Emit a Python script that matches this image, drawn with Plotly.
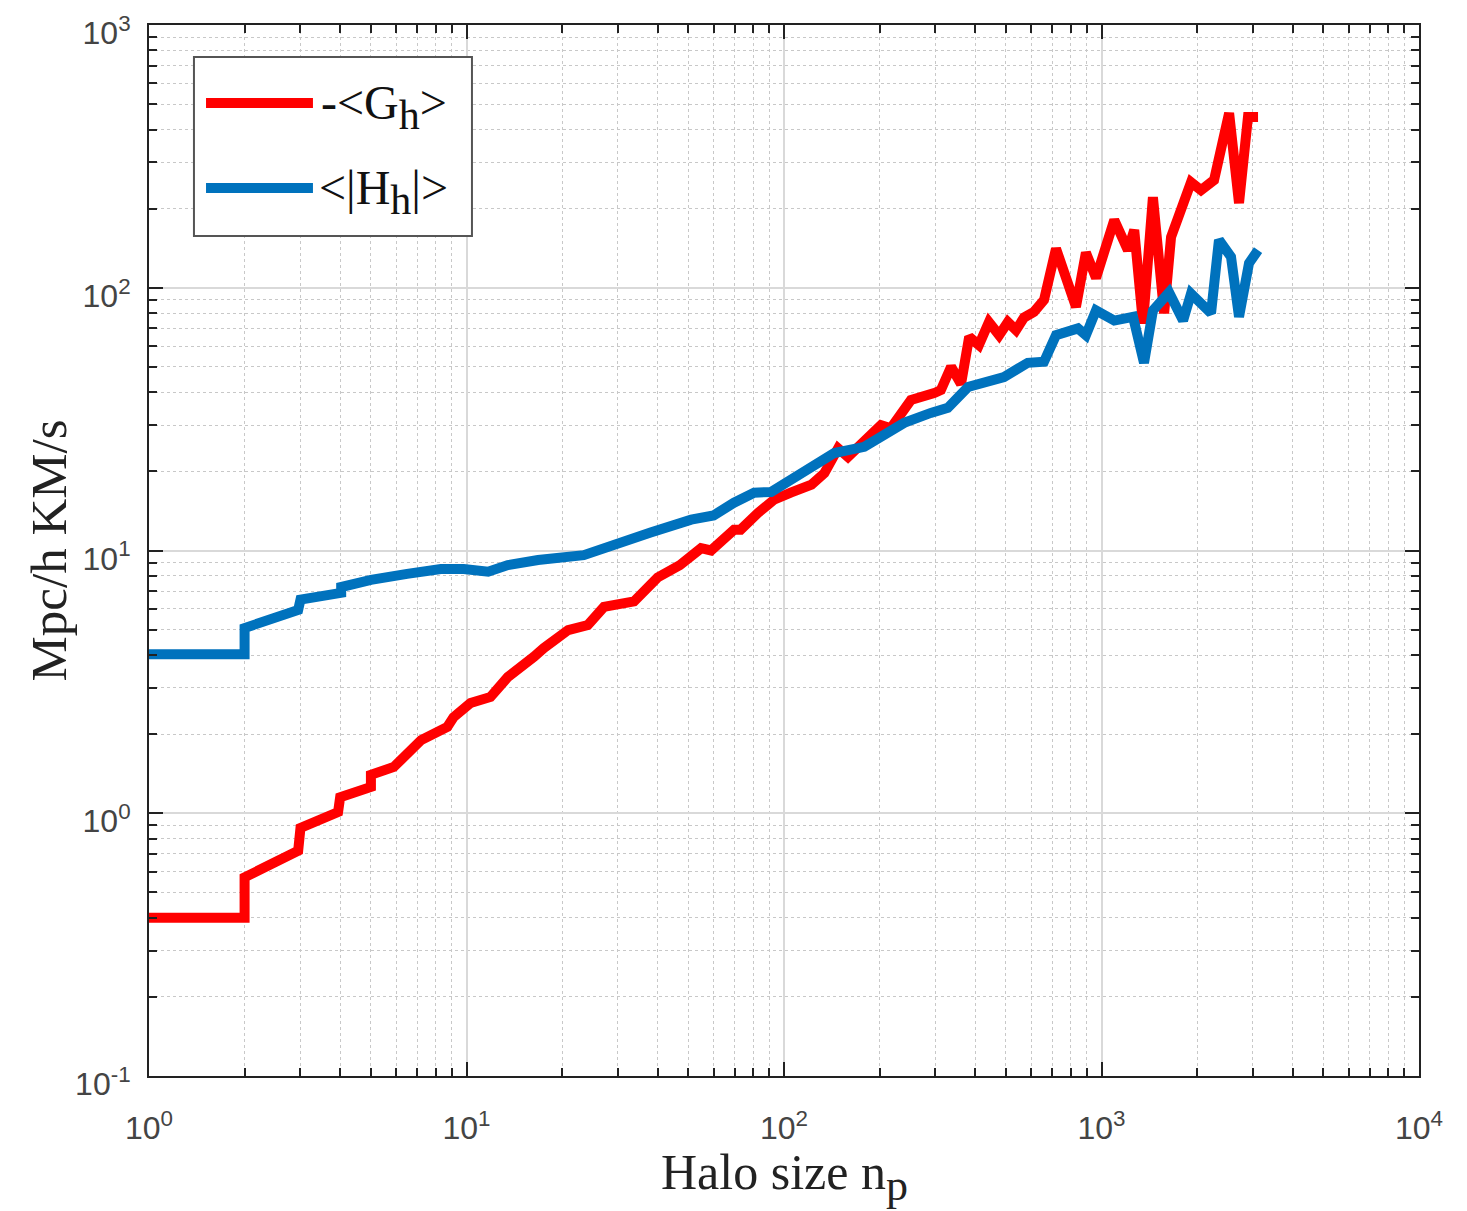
import plotly.graph_objects as go

# ---- data ----
g_np = [1, 2, 2, 2.95, 3, 3.94, 4, 5, 5, 5.9, 7.2, 8.7, 9.1, 10.3, 11.9, 13.5, 16.3, 17.5,
        20.9, 24.1, 27.1, 33.7, 40, 47, 54.8, 58.9, 69.6, 73, 82.8, 93, 105, 122, 134, 148,
        159, 184, 202, 217, 251, 297, 312, 336, 361, 383, 411, 442, 476, 507, 538, 570, 613,
        659, 719, 831, 893, 961, 1097, 1211, 1268, 1351, 1452, 1575, 1656, 1914, 2058, 2262,
        2523, 2711, 2893, 3112]
g_val = [0.40, 0.40, 0.57, 0.72, 0.88, 1.01, 1.15, 1.26, 1.40, 1.50, 1.90, 2.13, 2.32, 2.63,
         2.77, 3.30, 3.94, 4.25, 4.98, 5.2, 6.1, 6.4, 7.9, 8.8, 10.2, 10.0, 12.0, 12.0, 13.9,
         15.6, 16.6, 17.8, 19.7, 24.5, 22.7, 27.0, 30.0, 29.2, 37.4, 39.7, 40.8, 50.0, 43.0,
         65.0, 60.5, 74.0, 66.0, 74.0, 69.0, 77.0, 81.0, 89.8, 141, 84.6, 136, 109, 181, 139,
         166, 73, 221, 80, 156, 252, 235, 257, 462, 210, 447, 447]

h_np = [1, 2, 2, 2.95, 3, 4.03, 4.03, 5, 6.5, 8.3, 9.8, 11.7, 13.5, 16.8, 23.4, 30, 38, 51,
        60, 69.6, 80.5, 91, 105, 124, 144, 179, 207, 239, 290, 328, 380, 449, 493, 586, 659,
        719, 843, 893, 961, 1097, 1257, 1361, 1452, 1632, 1807, 1914, 2213, 2344, 2558, 2711,
        2915, 3112]
h_val = [4.03, 4.03, 5.07, 5.94, 6.5, 6.9, 7.26, 7.73, 8.15, 8.5, 8.5, 8.3, 8.8, 9.2, 9.6,
         10.7, 11.7, 13.1, 13.6, 15.2, 16.6, 16.7, 18.5, 20.6, 23.5, 24.8, 27.5, 30.6, 33.4,
         34.9, 41.9, 43.7, 45.7, 51.8, 52.3, 66, 70, 66, 82, 75, 77.5, 51.8, 82, 96, 75, 95,
         80, 152, 131, 77.5, 124, 139]

x_tickvals = [1, 10, 100, 1000, 10000]
x_ticktext = ["10<sup>0</sup>", "10<sup>1</sup>", "10<sup>2</sup>", "10<sup>3</sup>", "10<sup>4</sup>"]
y_tickvals = [0.1, 1, 10, 100, 1000]
y_ticktext = ["10<sup>-1</sup>", "10<sup>0</sup>", "10<sup>1</sup>", "10<sup>2</sup>", "10<sup>3</sup>"]

x_minor = [m * 10 ** d for d in range(0, 4) for m in range(2, 10)]
y_minor = [m * 10 ** d for d in range(-1, 3) for m in range(2, 10)]

RED = "#FF0000"
BLUE = "#0072BD"
SERIF = "Liberation Serif, Times New Roman, serif"
SANS = "Liberation Sans, Arial, sans-serif"

fig = go.Figure()
fig.add_trace(go.Scatter(x=g_np, y=g_val, mode="lines", line=dict(color=RED, width=10),
                         showlegend=False))
fig.add_trace(go.Scatter(x=h_np, y=h_val, mode="lines", line=dict(color=BLUE, width=10),
                         showlegend=False))

axis_common = dict(
    showline=True, linecolor="#222", linewidth=2, mirror="allticks",
    ticks="inside", ticklen=14, tickwidth=1.5, tickcolor="#222",
    showgrid=True, gridcolor="#d9d9d9", gridwidth=1.5,
    tickfont=dict(family=SANS, size=32, color="#444"),
    zeroline=False, automargin=False, ticklabeloverflow="allow",
)

fig.update_xaxes(type="log", range=[0, 4], tickmode="array", tickvals=x_tickvals,
                 ticktext=x_ticktext, ticklabelstandoff=23,
                 minor=dict(tickmode="array", tickvals=x_minor, ticks="inside", ticklen=8,
                            tickcolor="#222", showgrid=True, gridcolor="#c8c8c8",
                            griddash="dot", gridwidth=1),
                 **axis_common)
fig.update_yaxes(type="log", range=[-1, 3], tickmode="array", tickvals=y_tickvals,
                 ticktext=y_ticktext, ticklabelstandoff=10, ticklabelshift=8,
                 minor=dict(tickmode="array", tickvals=y_minor, ticks="inside", ticklen=8,
                            tickcolor="#222", showgrid=True, gridcolor="#c8c8c8",
                            griddash="dot", gridwidth=1),
                 **axis_common)

# custom legend (box, sample lines, labels)
fig.add_shape(type="rect", xref="paper", yref="paper", x0=0.0354, x1=0.2543, y0=0.7992,
              y1=0.9696, line=dict(color="#555", width=2), fillcolor="white", layer="above")
fig.add_shape(type="line", xref="paper", yref="paper", x0=0.0449, x1=0.1291, y0=0.9258,
              y1=0.9258, line=dict(color=RED, width=10), layer="above")
fig.add_shape(type="line", xref="paper", yref="paper", x0=0.0449, x1=0.1291, y0=0.8449,
              y1=0.8449, line=dict(color=BLUE, width=10), layer="above")
fig.add_annotation(xref="paper", yref="paper", x=0.1339, y=0.9258, xanchor="left",
                   yanchor="middle", yshift=-4, showarrow=False,
                   text="-&lt;G<sub><span style='font-size:42px'>h</span></sub>&gt;",
                   font=dict(family=SERIF, size=48, color="#111"))
fig.add_annotation(xref="paper", yref="paper", x=0.1323, y=0.8449, xanchor="left",
                   yanchor="middle", yshift=-4, showarrow=False,
                   text="&lt;|H<sub><span style='font-size:42px'>h</span></sub>|&gt;",
                   font=dict(family=SERIF, size=48, color="#111"))

# axis titles
fig.add_annotation(xref="paper", yref="paper", x=0.5, y=0, yshift=-66, xanchor="center",
                   yanchor="top", showarrow=False,
                   text="Halo size n<sub><span style='font-size:44px'>p</span></sub>",
                   font=dict(family=SERIF, size=50, color="#222"))
fig.add_annotation(xref="paper", yref="paper", x=0, y=0.5, xshift=-101, xanchor="center",
                   yanchor="middle", showarrow=False, text="Mpc/h KM/s", textangle=-90,
                   font=dict(family=SERIF, size=51, color="#222"))

fig.update_layout(
    width=1467, height=1211,
    margin=dict(l=141, r=56, t=17, b=143),
    paper_bgcolor="white", plot_bgcolor="white",
    showlegend=False,
)

fig.write_html("out.html")
